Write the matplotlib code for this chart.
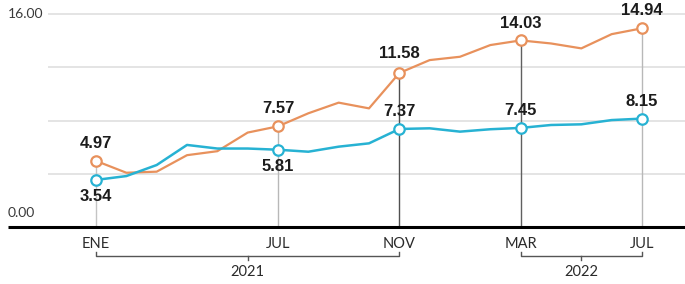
import matplotlib
matplotlib.use("Agg")
import matplotlib.pyplot as plt

# ---- data ----
months = ["ENE", "FEB", "MAR", "ABR", "MAY", "JUN", "JUL", "AGO", "SEP", "OCT", "NOV", "DIC",
          "ENE", "FEB", "MAR", "ABR", "MAY", "JUN", "JUL"]
orange = [4.97, 4.08, 4.16, 5.40, 5.70, 7.10, 7.57, 8.55, 9.35, 8.92, 11.58, 12.55,
          12.80, 13.68, 14.03, 13.80, 13.43, 14.50, 14.94]
cyan = [3.54, 3.83, 4.66, 6.17, 5.90, 5.90, 5.81, 5.66, 6.04, 6.29, 7.37, 7.42,
        7.17, 7.35, 7.45, 7.67, 7.72, 8.04, 8.15]
tick_idx = [0, 6, 10, 14, 18]
tick_labels = ["ENE", "JUL", "NOV", "MAR", "JUL"]
years = ["2021", "2022"]
year_spans = [(0, 10), (14, 18)]
grid_vals = [4, 8, 12, 16]
ytick_labels = ["0.00", "16.00"]

ORANGE = "#E8915C"
CYAN = "#27B2D3"
TXT = "#2a2a2a"

W, H = 685, 284
fig = plt.figure(figsize=(W / 100, H / 100), dpi=100)
base_px = 227
ax = fig.add_axes([0, (H - base_px) / H, 1, base_px / H])
pxm = 30.33
x0 = -96 / pxm
x1 = 18 + (W - 642) / pxm
ax.set_xlim(x0, x1)
ax.set_ylim(0, base_px / 13.3)
for s in ax.spines.values():
    s.set_visible(False)
ax.set_yticks([])
ax.set_xticks(tick_idx)
ax.set_xticklabels(tick_labels, fontfamily="Lato", fontsize=10.5, color=TXT)
ax.tick_params(axis="x", length=0, pad=7)

# grid
gx = x0 + 48 / pxm
for g in grid_vals:
    ax.plot([gx, x1], [g, g], color="#dcdcdc", lw=1.1, zorder=0, solid_capstyle="butt")

# baseline
ax.plot([x0 + 8 / pxm, x1], [0, 0], color="black", lw=2.2, clip_on=False, zorder=3,
        solid_capstyle="butt")

# y labels
ax.text(x0 + 8 / pxm, 16, ytick_labels[1], ha="left", va="center", fontsize=10,
        fontfamily="Lato", color="#3a3a3a")
ax.text(x0 + 8 / pxm, 1.05, ytick_labels[0], ha="left", va="center", fontsize=10,
        fontfamily="Lato", color="#3a3a3a")

# vertical lines
vcolors = ["#c4c4c4", "#b8b8b8", "#505050", "#606060", "#b8b8b8"]
for i, c in zip(tick_idx, vcolors):
    ax.plot([i, i], [0, max(orange[i], cyan[i])], color=c, lw=1, zorder=1)

# lines
ax.plot(range(len(orange)), orange, color=ORANGE, lw=1.6, zorder=4)
ax.plot(range(len(cyan)), cyan, color=CYAN, lw=1.8, zorder=4)
ax.plot(tick_idx, [orange[i] for i in tick_idx], "o", ms=7.5, mfc="white", mec=ORANGE,
        mew=1.6, zorder=5, clip_on=False)
ax.plot(tick_idx, [cyan[i] for i in tick_idx], "o", ms=7.5, mfc="white", mec=CYAN,
        mew=1.6, zorder=5, clip_on=False)

# value labels
cyan_below = [True, True, False, False, False]
for k, i in enumerate(tick_idx):
    off = 14 if i == 10 else 12.5
    ax.annotate(f"{orange[i]:.2f}", (i, orange[i]), xytext=(0, off), textcoords="offset points",
                ha="center", va="center", fontsize=12, fontweight="bold",
                fontfamily="Liberation Sans", color="#1c1c1c", zorder=6, annotation_clip=False)
    dy = -12 if cyan_below[k] else 12.5
    ax.annotate(f"{cyan[i]:.2f}", (i, cyan[i]), xytext=(0, dy), textcoords="offset points",
                ha="center", va="center", fontsize=12, fontweight="bold",
                fontfamily="Liberation Sans", color="#1c1c1c", zorder=6, annotation_clip=False)

# year brackets
tr = ax.get_xaxis_transform()
def fy(px):
    return -(px - base_px) / base_px
for (a, b), yr in zip(year_spans, years):
    mid = (a + b) / 2
    ax.plot([a, a, b, b], [fy(252), fy(256), fy(256), fy(252)], color="#555555", lw=1,
            transform=tr, clip_on=False)
    ax.plot([mid, mid], [fy(256), fy(260)], color="#555555", lw=1, transform=tr, clip_on=False)
    ax.text(mid, fy(272), yr, ha="center", va="center", fontsize=10.5, fontfamily="Lato",
            color=TXT, transform=tr)

fig.savefig("out.png", dpi=100)
